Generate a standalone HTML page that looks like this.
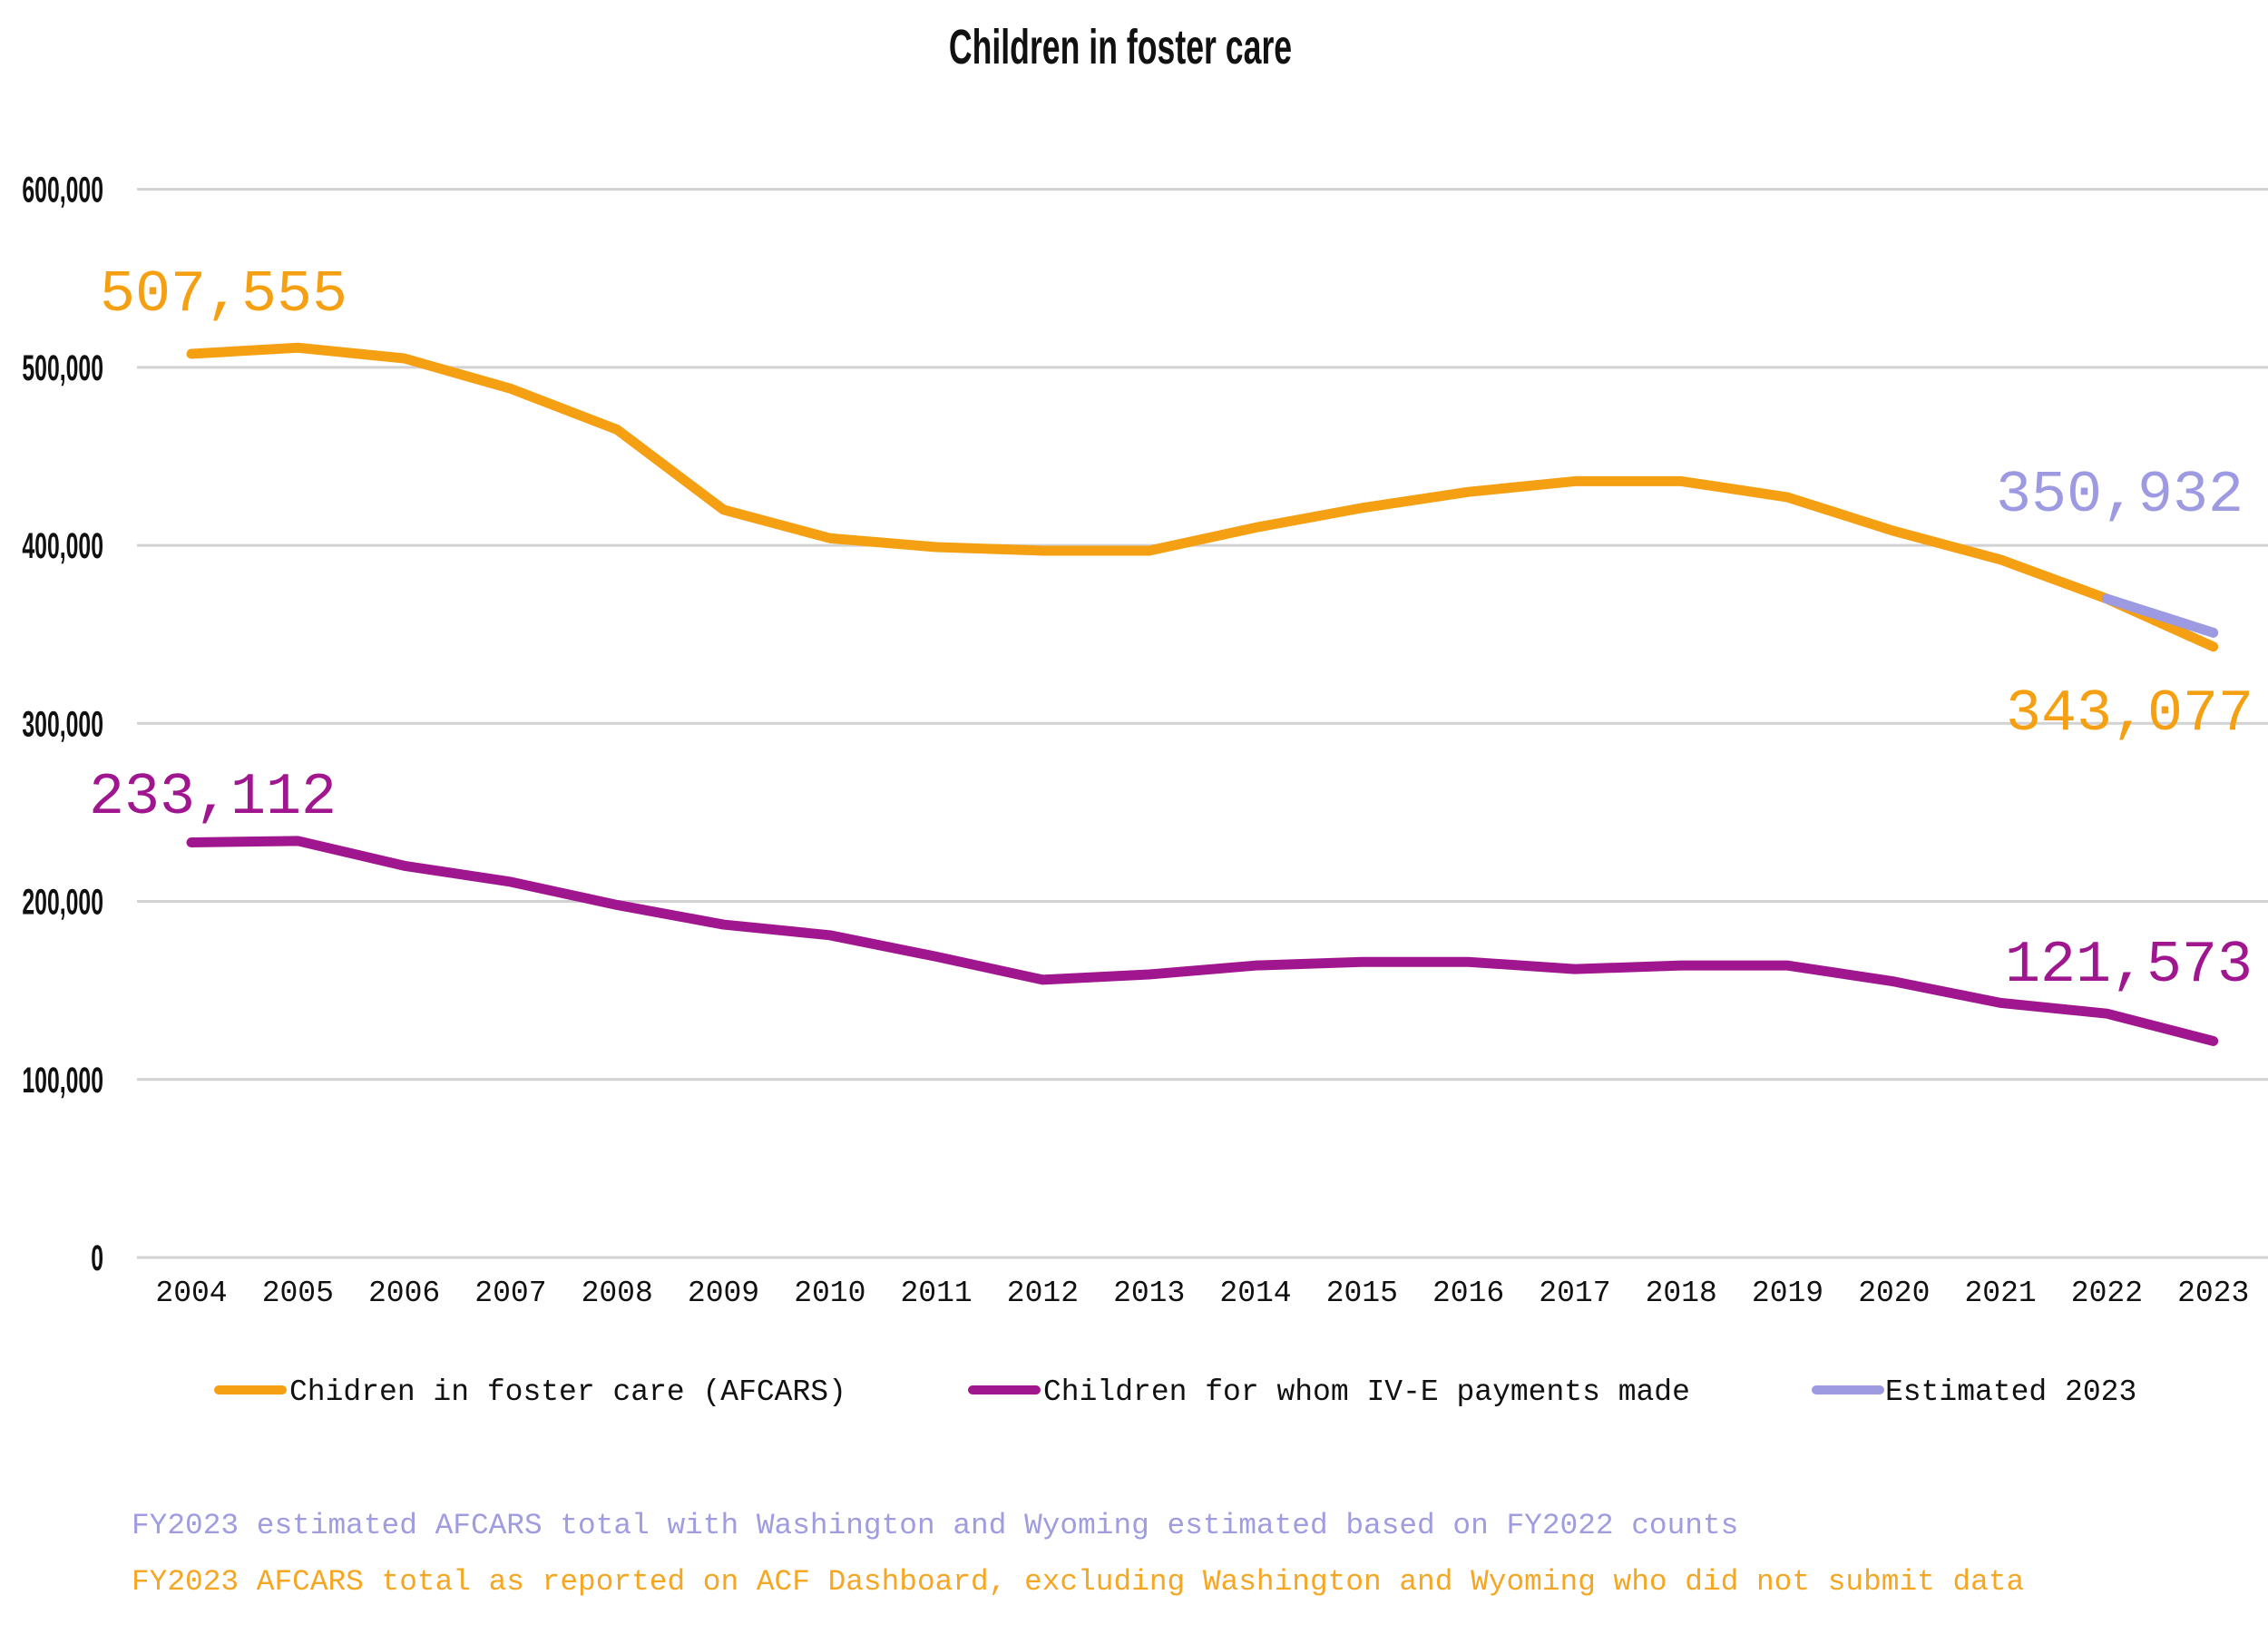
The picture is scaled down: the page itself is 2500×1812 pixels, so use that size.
<!DOCTYPE html>
<html><head><meta charset="utf-8"><style>
html,body{margin:0;padding:0;background:#fff;}
svg{display:block;}
.mono{font-family:"Liberation Mono","DejaVu Sans Mono",monospace;}
.cond{font-family:"Liberation Sans",sans-serif;}
</style></head><body>
<svg id="chart" width="2500" height="1812" viewBox="0 0 2500 1812" xmlns="http://www.w3.org/2000/svg">
<text class="cond" x="0" y="70" font-size="54" font-weight="bold" fill="#111" transform="translate(1235,0) scale(0.66,1)" text-anchor="middle">Children in foster care</text>
<g id="grid"></g><g id="xlabels"></g><g id="lines"></g>
<text class="mono" x="110" y="342" font-size="65" fill="#f59f12">507,555</text>
<text class="mono" x="98" y="896" font-size="65" fill="#a0168f">233,112</text>
<text class="mono" x="2200" y="563" font-size="65" fill="#9e9ae2">350,932</text>
<text class="mono" x="2211" y="804" font-size="65" fill="#f59f12">343,077</text>
<text class="mono" x="2210" y="1081" font-size="65" fill="#a0168f">121,573</text>
<g>
<line x1="241" y1="1532" x2="311" y2="1532" stroke="#f59f12" stroke-width="10" stroke-linecap="round"/>
<text class="mono" x="319" y="1543" font-size="33" fill="#111">Chidren in foster care (AFCARS)</text>
<line x1="1072" y1="1532" x2="1142" y2="1532" stroke="#a0168f" stroke-width="10" stroke-linecap="round"/>
<text class="mono" x="1150" y="1543" font-size="33" fill="#111">Children for whom IV-E payments made</text>
<line x1="2002" y1="1532" x2="2072" y2="1532" stroke="#9e9ae2" stroke-width="10" stroke-linecap="round"/>
<text class="mono" x="2078" y="1543" font-size="33" fill="#111">Estimated 2023</text>
</g>
<text class="mono" x="145" y="1690" font-size="32.8" fill="#a09ce0">FY2023 estimated AFCARS total with Washington and Wyoming estimated based on FY2022 counts</text>
<text class="mono" x="145" y="1752" font-size="32.8" fill="#f5a623">FY2023 AFCARS total as reported on ACF Dashboard, excluding Washington and Wyoming who did not submit data</text>
</svg>
<script>
const years=[2004,2005,2006,2007,2008,2009,2010,2011,2012,2013,2014,2015,2016,2017,2018,2019,2020,2021,2022,2023];
const afcars=[507555,511000,505000,488000,465000,420000,404000,399000,397000,397000,410000,421000,430000,436000,436000,427000,408000,392000,370000,343077];
const ive=[233112,234000,220000,211000,198000,187000,181000,169000,156000,159000,164000,166000,166000,162000,164000,164000,155000,143000,137000,121573];
const estYears=[2022,2023];
const estimated=[370000,350932];
const yTicks=[0,100000,200000,300000,400000,500000,600000];
const yTickLabels=["0","100,000","200,000","300,000","400,000","500,000","600,000"];
const NS="http://www.w3.org/2000/svg";
const x=yr=>211+(yr-2004)*117.3;
const y=v=>1386-v*(1177.4/600000);
const grid=document.getElementById('grid');
yTicks.forEach((t,i)=>{
  const l=document.createElementNS(NS,'line');
  l.setAttribute('x1',151);l.setAttribute('x2',2500);l.setAttribute('y1',y(t));l.setAttribute('y2',y(t));
  l.setAttribute('stroke','#d2d2d2');l.setAttribute('stroke-width',3);
  
  
  grid.appendChild(l);
  const tx=document.createElementNS(NS,'text');
  tx.setAttribute('x',0);tx.setAttribute('y',0);
  tx.setAttribute('transform','translate(114,'+(y(t)+14)+') scale(0.62,1)');
  tx.setAttribute('text-anchor','end');tx.setAttribute('font-size',40);tx.setAttribute('font-weight','bold');tx.setAttribute('fill','#111');
  tx.setAttribute('class','cond');
  tx.textContent=yTickLabels[i];
  
  
  grid.appendChild(tx);
});
const xl=document.getElementById('xlabels');
years.forEach(yr=>{
  const tx=document.createElementNS(NS,'text');
  tx.setAttribute('x',x(yr));tx.setAttribute('y',1434);
  tx.setAttribute('text-anchor','middle');tx.setAttribute('font-size',33);tx.setAttribute('fill','#111');
  tx.setAttribute('class','mono');
  tx.textContent=yr;
  
  
  xl.appendChild(tx);
});
const lines=document.getElementById('lines');
function draw(xs,vals,color,name){
  const p=document.createElementNS(NS,'polyline');
  p.setAttribute('points',xs.map((yr,i)=>x(yr)+','+y(vals[i])).join(' '));
  p.setAttribute('fill','none');p.setAttribute('stroke',color);p.setAttribute('stroke-width',11);
  p.setAttribute('stroke-linejoin','round');p.setAttribute('stroke-linecap','round');
  
  
  lines.appendChild(p);
}
draw(years,afcars,'#f59f12','afcars-line');
draw(years,ive,'#a0168f','ive-line');
draw(estYears,estimated,'#9e9ae2','estimated-line');
</script>
</body></html>
